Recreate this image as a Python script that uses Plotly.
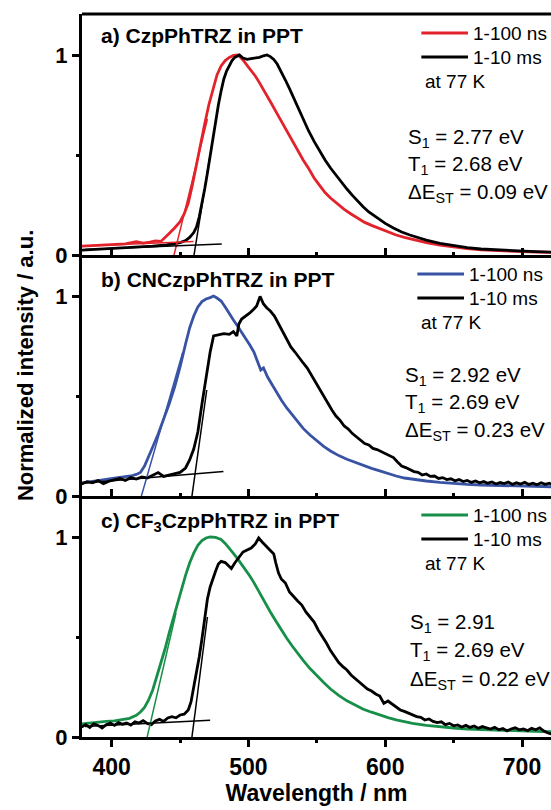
import plotly.graph_objs as go
from plotly.subplots import make_subplots

# ---- a) CzpPhTRZ in PPT -------------------------------------------------
czp_fast_nm = [378, 390, 400, 410, 418, 423, 428, 432, 436, 439, 442, 446, 450, 453, 456, 459,
               462, 465, 468, 471, 474, 477, 480, 483, 486, 489, 492.5, 496, 499, 502, 505, 508,
               511, 514, 517, 520, 524, 528, 532, 536, 540, 544, 548, 552, 556, 560, 565, 570,
               575, 580, 585, 590, 596, 602, 608, 614, 620, 630, 640, 650, 660, 670, 680, 690,
               700, 710, 722]
czp_fast_int = [0.044, 0.048, 0.052, 0.056, 0.066, 0.059, 0.064, 0.071, 0.068, 0.090, 0.108, 0.135,
                0.167, 0.205, 0.260, 0.350, 0.455, 0.555, 0.655, 0.750, 0.830, 0.900, 0.945, 0.972,
                0.988, 0.998, 1.000, 0.975, 0.948, 0.922, 0.895, 0.862, 0.828, 0.790, 0.755, 0.718,
                0.668, 0.622, 0.575, 0.525, 0.475, 0.432, 0.385, 0.348, 0.312, 0.285, 0.255, 0.228,
                0.205, 0.182, 0.163, 0.148, 0.132, 0.115, 0.100, 0.088, 0.078, 0.062, 0.050, 0.040,
                0.032, 0.026, 0.022, 0.019, 0.017, 0.015, 0.013]
czp_slow_nm = [378, 390, 400, 410, 420, 430, 440, 446, 450, 454, 457, 460, 462, 464, 466, 468,
               470, 472, 474, 476, 478, 480, 482, 484, 486, 488, 490, 493.4, 496, 499, 502, 505,
               508, 511, 513.5, 516, 518.5, 521, 524, 527, 530, 533, 536, 540, 544, 548, 552, 556,
               560, 564, 568, 572, 576, 580, 584, 588, 592, 596, 600, 606, 612, 618, 624, 630,
               640, 650, 660, 670, 680, 690, 700, 710, 722]
czp_slow_int = [0.024, 0.028, 0.032, 0.036, 0.040, 0.044, 0.050, 0.056, 0.062, 0.072, 0.088, 0.112,
                0.140, 0.190, 0.255, 0.330, 0.410, 0.500, 0.580, 0.665, 0.750, 0.820, 0.880, 0.920,
                0.950, 0.972, 0.988, 1.000, 0.985, 0.978, 0.982, 0.985, 0.988, 0.996, 1.000, 0.992,
                0.978, 0.955, 0.918, 0.875, 0.832, 0.785, 0.738, 0.675, 0.620, 0.568, 0.518, 0.475,
                0.435, 0.398, 0.362, 0.330, 0.298, 0.268, 0.240, 0.215, 0.195, 0.175, 0.158, 0.135,
                0.115, 0.100, 0.086, 0.074, 0.058, 0.046, 0.037, 0.030, 0.026, 0.022, 0.019, 0.017,
                0.014]
czp_fast_base_nm = [380.5, 459.8]
czp_fast_base_int = [0.045, 0.067]
czp_fast_onset_nm = [444.5, 470.0]
czp_fast_onset_int = [-0.03, 0.68]
czp_slow_base_nm = [380.5, 480.5]
czp_slow_base_int = [0.028, 0.055]
czp_slow_onset_nm = [459.5, 472.0]
czp_slow_onset_int = [-0.03, 0.50]

# ---- b) CNCzpPhTRZ in PPT -----------------------------------------------
cn_fast_nm = [378, 384, 390, 396, 402, 408, 414, 418, 421, 424, 427, 430, 434, 438, 442, 446,
              450, 454, 457, 460, 463, 466, 469, 472, 474.5, 477, 480, 483, 486, 489, 492, 495,
              498, 501, 504, 507, 509, 511, 514, 517, 520, 524, 528, 532, 536, 540, 545, 550,
              555, 560, 566, 572, 578, 584, 590, 596, 602, 608, 614, 620, 630, 640, 650, 660,
              670, 680, 690, 700, 710, 722]
cn_fast_int = [0.065, 0.072, 0.078, 0.083, 0.089, 0.095, 0.100, 0.108, 0.118, 0.150, 0.195, 0.245,
               0.310, 0.380, 0.460, 0.545, 0.645, 0.760, 0.840, 0.900, 0.945, 0.972, 0.985, 0.992,
               1.000, 0.990, 0.975, 0.945, 0.910, 0.880, 0.850, 0.820, 0.790, 0.755, 0.720, 0.670,
               0.630, 0.640, 0.595, 0.560, 0.525, 0.480, 0.440, 0.405, 0.372, 0.338, 0.305, 0.275,
               0.248, 0.225, 0.202, 0.184, 0.168, 0.152, 0.138, 0.126, 0.112, 0.100, 0.090, 0.084,
               0.075, 0.068, 0.062, 0.058, 0.055, 0.053, 0.052, 0.050, 0.048, 0.046]
cn_slow_nm = [378, 382, 386, 390, 394, 398, 402, 406, 410, 414, 418, 422, 426, 430, 434, 438,
              442, 446, 450, 454, 457, 460, 463, 466, 469, 472, 474.5, 478, 482, 486, 489, 491.5,
              493, 495, 498, 501, 504, 506, 508.5, 511, 513.5, 516, 519, 522, 525, 528, 531, 534,
              537, 540, 543, 546, 549, 552, 555, 558, 561, 564, 567, 570, 573, 576, 579, 582,
              585, 588, 591, 594, 597, 600, 603, 606, 609, 612, 615, 618, 621, 624, 627, 630,
              633, 636, 639, 642, 645, 648, 651, 654, 657, 660, 663, 666, 669, 672, 675, 678,
              681, 684, 687, 690, 693, 696, 699, 702, 705, 708, 711, 714, 717, 720, 722]
cn_slow_int = [0.060, 0.072, 0.066, 0.077, 0.062, 0.074, 0.081, 0.088, 0.078, 0.092, 0.085, 0.095,
               0.090, 0.103, 0.117, 0.098, 0.104, 0.111, 0.118, 0.140, 0.180, 0.235, 0.320, 0.460,
               0.600, 0.720, 0.800, 0.806, 0.812, 0.808, 0.822, 0.800, 0.860, 0.885, 0.900, 0.915,
               0.935, 0.950, 0.998, 0.960, 0.940, 0.925, 0.900, 0.860, 0.820, 0.785, 0.745, 0.720,
               0.690, 0.665, 0.640, 0.605, 0.570, 0.530, 0.500, 0.460, 0.430, 0.400, 0.378, 0.350,
               0.335, 0.312, 0.295, 0.280, 0.262, 0.255, 0.238, 0.232, 0.222, 0.210, 0.202, 0.192,
               0.170, 0.150, 0.142, 0.130, 0.122, 0.118, 0.105, 0.110, 0.098, 0.100, 0.088, 0.092,
               0.082, 0.086, 0.076, 0.082, 0.072, 0.078, 0.068, 0.075, 0.066, 0.072, 0.064, 0.070,
               0.060, 0.068, 0.062, 0.070, 0.058, 0.066, 0.060, 0.068, 0.058, 0.064, 0.056, 0.066,
               0.058, 0.064, 0.058]
cn_fast_onset_nm = [421.3, 452.0]
cn_fast_onset_int = [-0.01, 0.72]
cn_slow_base_nm = [380.5, 481.7]
cn_slow_base_int = [0.065, 0.122]
cn_slow_onset_nm = [458.5, 469.5]
cn_slow_onset_int = [-0.01, 0.53]

# ---- c) CF3CzpPhTRZ in PPT ----------------------------------------------
cf3_fast_nm = [378, 384, 390, 396, 402, 408, 413, 418, 421, 424, 427, 430, 433, 436, 439, 442,
               445, 448, 451, 454, 457, 460, 463, 466, 469, 472, 476, 480, 483, 486, 489, 492,
               495, 498, 501, 504, 508, 512, 516, 520, 524, 528, 532, 536, 540, 545, 550, 555,
               560, 566, 572, 578, 584, 590, 596, 602, 608, 614, 620, 630, 640, 650, 660, 670,
               680, 690, 700, 710, 722]
cf3_fast_int = [0.065, 0.070, 0.075, 0.078, 0.081, 0.086, 0.093, 0.108, 0.125, 0.148, 0.185, 0.235,
                0.300, 0.370, 0.440, 0.520, 0.592, 0.665, 0.740, 0.808, 0.870, 0.920, 0.958, 0.982,
                0.995, 1.000, 0.998, 0.988, 0.968, 0.945, 0.918, 0.892, 0.865, 0.835, 0.805, 0.772,
                0.722, 0.670, 0.625, 0.580, 0.535, 0.494, 0.455, 0.418, 0.383, 0.342, 0.305, 0.272,
                0.240, 0.208, 0.181, 0.158, 0.139, 0.124, 0.110, 0.097, 0.086, 0.076, 0.068, 0.058,
                0.050, 0.045, 0.040, 0.037, 0.034, 0.032, 0.030, 0.028, 0.026]
cf3_slow_nm = [378, 381, 384, 387, 390, 393, 396, 399, 402, 405, 408, 411, 414, 417, 420, 423,
               426, 429, 432, 435, 438, 441, 444, 447, 450, 453, 456, 458, 460, 462, 464, 466,
               468, 470, 472, 474, 476, 478, 480, 483, 485.5, 487.5, 490, 493, 496, 499, 502, 505,
               507.5, 510, 513, 516, 518.5, 520, 522, 524, 527, 530, 533, 536, 539, 542, 545, 548,
               551, 554, 557, 560, 563, 566, 569, 572, 575, 578, 581, 584, 587, 590, 593, 596,
               599, 602, 605, 608, 611, 614, 617, 620, 623, 626, 629, 632, 635, 638, 641, 644,
               647, 650, 653, 656, 659, 662, 665, 668, 671, 674, 677, 680, 683, 686, 689, 692,
               695, 698, 701, 704, 707, 710, 713, 716, 719, 722]
cf3_slow_int = [0.050, 0.062, 0.048, 0.066, 0.058, 0.045, 0.062, 0.070, 0.058, 0.072, 0.064, 0.070,
                0.060, 0.076, 0.070, 0.082, 0.068, 0.062, 0.080, 0.088, 0.078, 0.095, 0.102, 0.096,
                0.110, 0.114, 0.135, 0.175, 0.250, 0.320, 0.400, 0.490, 0.580, 0.690, 0.750, 0.795,
                0.830, 0.865, 0.878, 0.872, 0.858, 0.842, 0.870, 0.900, 0.925, 0.935, 0.945, 0.965,
                0.995, 0.975, 0.955, 0.935, 0.915, 0.870, 0.820, 0.790, 0.770, 0.725, 0.700, 0.680,
                0.660, 0.625, 0.600, 0.575, 0.535, 0.505, 0.470, 0.432, 0.405, 0.372, 0.352, 0.335,
                0.310, 0.292, 0.278, 0.255, 0.240, 0.230, 0.215, 0.205, 0.168, 0.180, 0.165, 0.150,
                0.135, 0.128, 0.118, 0.110, 0.102, 0.098, 0.085, 0.090, 0.078, 0.072, 0.076, 0.062,
                0.068, 0.056, 0.060, 0.050, 0.058, 0.048, 0.055, 0.044, 0.052, 0.046, 0.040, 0.048,
                0.036, 0.042, 0.030, 0.040, 0.046, 0.036, 0.040, 0.032, 0.044, 0.036, 0.046, 0.030,
                0.020, 0.015]
cf3_fast_onset_nm = [425.6, 447.0]
cf3_fast_onset_int = [-0.01, 0.62]
cf3_slow_base_nm = [380.5, 472.0]
cf3_slow_base_int = [0.052, 0.084]
cf3_slow_onset_nm = [458.5, 470.0]
cf3_slow_onset_int = [-0.01, 0.60]

panel_titles = ["a) CzpPhTRZ in PPT", "b) CNCzpPhTRZ in PPT", "c) CF<sub>3</sub>CzpPhTRZ in PPT"]
energy_labels = [
    ["S<sub>1</sub> = 2.77 eV", "T<sub>1</sub> = 2.68 eV", "ΔE<sub>ST</sub> = 0.09 eV"],
    ["S<sub>1</sub> = 2.92 eV", "T<sub>1</sub> = 2.69 eV", "ΔE<sub>ST</sub> = 0.23 eV"],
    ["S<sub>1</sub> = 2.91", "T<sub>1</sub> = 2.69 eV", "ΔE<sub>ST</sub> = 0.22 eV"],
]
legend_names = ["1-100 ns", "1-10 ms"]
legend_note = "at 77 K"

RED = "#e3232b"
BLUE = "#3953a4"
GREEN = "#178f48"
FONT = "Liberation Sans, Arial, sans-serif"

X_RANGE = [378.3, 721.2]
Y_RANGE = [0, 1.205]


def add_panel(fig, row, fast, slow, fits, color):
    fig.add_trace(go.Scatter(x=fast[0], y=fast[1], mode="lines",
                             line=dict(color=color, width=2.8)), row=row, col=1)
    fig.add_trace(go.Scatter(x=slow[0], y=slow[1], mode="lines",
                             line=dict(color="black", width=2.8)), row=row, col=1)
    for fx, fy, fc in fits:
        fig.add_trace(go.Scatter(x=fx, y=fy, mode="lines",
                                 line=dict(color=fc, width=1.5)), row=row, col=1)


fig = make_subplots(rows=3, cols=1, shared_xaxes=True, vertical_spacing=0)

add_panel(fig, 1, (czp_fast_nm, czp_fast_int), (czp_slow_nm, czp_slow_int),
          [(czp_fast_base_nm, czp_fast_base_int, RED), (czp_fast_onset_nm, czp_fast_onset_int, RED),
           (czp_slow_base_nm, czp_slow_base_int, "black"), (czp_slow_onset_nm, czp_slow_onset_int, "black")],
          RED)
add_panel(fig, 2, (cn_fast_nm, cn_fast_int), (cn_slow_nm, cn_slow_int),
          [(cn_fast_onset_nm, cn_fast_onset_int, BLUE),
           (cn_slow_base_nm, cn_slow_base_int, "black"), (cn_slow_onset_nm, cn_slow_onset_int, "black")],
          BLUE)
add_panel(fig, 3, (cf3_fast_nm, cf3_fast_int), (cf3_slow_nm, cf3_slow_int),
          [(cf3_fast_onset_nm, cf3_fast_onset_int, GREEN),
           (cf3_slow_base_nm, cf3_slow_base_int, "black"), (cf3_slow_onset_nm, cf3_slow_onset_int, "black")],
          GREEN)

for row in (1, 2, 3):
    fig.update_xaxes(range=X_RANGE, showgrid=False, zeroline=False, showline=True,
                     linecolor="black", linewidth=3, tickmode="linear", tick0=400, dtick=100,
                     ticks="inside" if row < 3 else "outside", ticklen=7, tickwidth=2.5,
                     tickcolor="black",
                     minor=dict(dtick=50, tick0=400, ticklen=3, tickwidth=2.5, tickcolor="black",
                                ticks="inside" if row < 3 else "outside"),
                     showticklabels=(row == 3), row=row, col=1)
    fig.update_yaxes(range=Y_RANGE, showgrid=False, zeroline=False, showline=True,
                     linecolor="black", linewidth=3, tickmode="linear", tick0=0, dtick=1,
                     ticks="outside", ticklen=7, tickwidth=2.5, tickcolor="black",
                     minor=dict(dtick=0.5, tick0=0, ticklen=3, tickwidth=2.5, tickcolor="black",
                                ticks="outside"),
                     tickfont=dict(family=FONT, size=22, color="black", weight="bold"),
                     row=row, col=1)

fig.update_xaxes(tickfont=dict(family=FONT, size=23, color="black", weight="bold"),
                 title=dict(text="Wavelength / nm", standoff=6,
                            font=dict(family=FONT, size=23, color="black", weight="bold")),
                 row=3, col=1)

# frame on top of panel a
fig.add_shape(type="line", xref="x domain", yref="y domain", x0=0, x1=1, y0=1, y1=1,
              line=dict(color="black", width=3))

annotations = []
colors = [RED, BLUE, GREEN]
title_y = [1.10, 1.085, 1.075]
legend_x = [[626.4, 660.5, 662.5, 627.7], [623.5, 657.6, 659.6, 624.8], [626.4, 660.5, 662.5, 627.7]]
energy_x = [615.5, 613.0, 617.0]
energy_y = [[0.585, 0.45, 0.31], [0.60, 0.465, 0.325], [0.57, 0.43, 0.285]]
for i in range(3):
    xr = "x" if i == 0 else "x%d" % (i + 1)
    yr = "y" if i == 0 else "y%d" % (i + 1)
    annotations.append(dict(xref=xr, yref=yr, x=391, y=title_y[i], text="<b>%s</b>" % panel_titles[i],
                            showarrow=False, xanchor="left", yanchor="middle",
                            font=dict(family=FONT, size=21, color="black")))
    lx0, lx1, tx, nx = legend_x[i]
    for name, lc, ly in zip(legend_names, [colors[i], "black"], [1.11, 0.99]):
        fig.add_shape(type="line", xref=xr, yref=yr, x0=lx0, x1=lx1, y0=ly, y1=ly,
                      line=dict(color=lc, width=3))
        annotations.append(dict(xref=xr, yref=yr, x=tx, y=ly, text=name, showarrow=False,
                                xanchor="left", yanchor="middle",
                                font=dict(family=FONT, size=19, color="black")))
    annotations.append(dict(xref=xr, yref=yr, x=nx, y=0.867, text=legend_note, showarrow=False,
                            xanchor="left", yanchor="middle",
                            font=dict(family=FONT, size=19, color="black")))
    for txt, ey in zip(energy_labels[i], energy_y[i]):
        annotations.append(dict(xref=xr, yref=yr, x=energy_x[i], y=ey, text=txt, showarrow=False,
                                xanchor="left", yanchor="middle",
                                font=dict(family=FONT, size=20.5, color="black")))

annotations.append(dict(xref="paper", yref="paper", x=-0.1215, y=0.513,
                        text="<b>Normalized intensity / a.u.</b>", textangle=-90, showarrow=False,
                        xanchor="center", yanchor="middle",
                        font=dict(family=FONT, size=22, color="black")))

fig.update_layout(width=551, height=810, showlegend=False, annotations=annotations,
                  margin=dict(l=82, r=0, t=14, b=73),
                  paper_bgcolor="white", plot_bgcolor="white",
                  font=dict(family=FONT, color="black"))
# the page's default body margin would push the 551x810 figure off the window
fig.write_html("out.html", config={"displayModeBar": False},
               post_script="document.body.style.margin = '0';")
